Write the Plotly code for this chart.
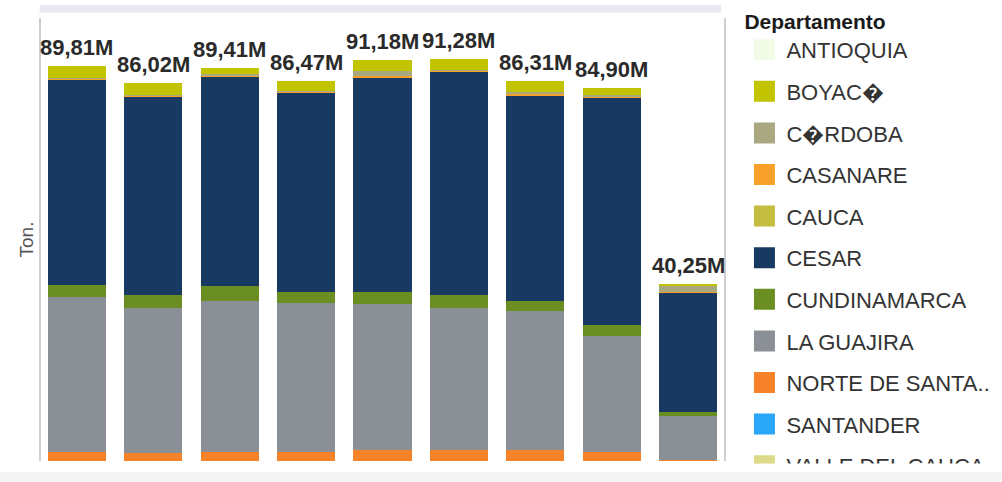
import plotly.graph_objects as go

years = ["2012", "2013", "2014", "2015", "2016", "2017", "2018", "2019", "2020"]

# Values in millions of tonnes
antioquia = [0, 0, 0, 0, 0, 0, 0, 0, 0]
boyaca = [2.80, 2.80, 1.50, 2.40, 2.59, 2.43, 2.43, 1.59, 0.50]
cordoba = [0.15, 0.15, 0.20, 0.15, 0.98, 0.15, 0.40, 0.40, 1.36]
casanare = [0.15, 0.15, 0.50, 0.15, 0.35, 0.15, 0.50, 0.35, 0.05]
cauca = [0, 0, 0, 0, 0, 0, 0, 0, 0]
cesar = [46.70, 45.17, 47.35, 45.42, 48.90, 50.80, 46.53, 51.71, 27.19]
cundinamarca = [2.66, 2.89, 3.48, 2.36, 2.73, 2.89, 2.34, 2.43, 1.00]
la_guajira = [35.24, 33.11, 34.27, 33.88, 33.13, 32.36, 31.61, 26.31, 9.85]
norte_santander = [2.11, 1.75, 2.11, 2.11, 2.50, 2.50, 2.50, 2.11, 0.30]
santander = [0, 0, 0, 0, 0, 0, 0, 0, 0]
valle_cauca = [0, 0, 0, 0, 0, 0, 0, 0, 0]

# legend order (top to bottom); stacking is the reverse (bottom first)
series = [
    ("ANTIOQUIA", antioquia, "#F1FBE6"),
    ("BOYAC\ufffd", boyaca, "#C3C400"),
    ("C\ufffdRDOBA", cordoba, "#A9A880"),
    ("CASANARE", casanare, "#F8A02A"),
    ("CAUCA", cauca, "#C3BE40"),
    ("CESAR", cesar, "#173962"),
    ("CUNDINAMARCA", cundinamarca, "#6B8E23"),
    ("LA GUAJIRA", la_guajira, "#8A9096"),
    ("NORTE DE SANTA..", norte_santander, "#F6822A"),
    ("SANTANDER", santander, "#2AA7F8"),
    ("VALLE DEL CAUCA", valle_cauca, "#DDDB8A"),
]

FONT = "Liberation Sans, Arial, sans-serif"

fig = go.Figure()
# legend entries first (larger square symbols), in legend order
for name, vals, col in series:
    fig.add_trace(go.Scatter(
        x=[None], y=[None], mode="markers", name=name, legendgroup=name,
        marker=dict(symbol="square", size=16, color=col, line=dict(width=5, color=col)),
        showlegend=True, hoverinfo="skip",
    ))
# stacked bars, bottom first
for name, vals, col in reversed(series):
    fig.add_trace(go.Bar(
        x=years, y=vals, name=name, marker=dict(color=col, line=dict(width=0)),
        showlegend=False,
    ))

totals = [round(sum(v[i] for _, v, _ in series), 2) for i in range(len(years))]
labels = [f"{t:.2f}".replace(".", ",") + "M" for t in totals]

# category axis: annotation x uses the category index
annotations = [
    dict(x=i, y=t, xref="x", yref="y", text=lab, showarrow=False,
         yanchor="bottom", yshift=4,
         font=dict(family=FONT, size=22, color="#2a2a2a", weight="bold"))
    for i, (t, lab) in enumerate(zip(totals, labels))
]

fig.update_layout(
    width=1002, height=482,
    barmode="stack", bargap=0.24,
    paper_bgcolor="white", plot_bgcolor="white",
    margin=dict(l=41, r=278, t=18, b=21, autoexpand=False),
    font=dict(family=FONT, color="#333333"),
    xaxis=dict(type="category", categoryorder="array", categoryarray=years,
               showticklabels=False, showgrid=False, zeroline=False,
               showline=False, ticks="", range=[-0.47, 8.47]),
    yaxis=dict(showticklabels=False, showgrid=False, zeroline=False, showline=True,
               linecolor="#cfcfcf", linewidth=2, mirror=True, ticks="",
               range=[0, 100.7],
               title=dict(text="Ton.", font=dict(size=19, color="#555555"), standoff=0)),
    legend=dict(
        x=1.027, y=1.037, xanchor="left", yanchor="top",
        traceorder="grouped", tracegroupgap=10, itemwidth=34,
        font=dict(family=FONT, size=22, color="#333333"),
        title=dict(text="Departamento" + "\u00a0" * 22,
                   font=dict(family=FONT, size=21, color="#1a1a1a", weight="bold")),
        bgcolor="rgba(0,0,0,0)", maxheight=462,
    ),
    annotations=annotations,
    shapes=[
        dict(type="rect", xref="paper", yref="paper", x0=-0.002, x1=0.996,
             y0=(461 - 12.5) / 443, y1=(461 - 5) / 443, fillcolor="#E9EAEF", line=dict(width=0), layer="below"),
        dict(type="rect", xref="paper", yref="paper", x0=-41 / 683, x1=(1002 - 41) / 683,
             y0=-(482 - 461) / 443, y1=-(472 - 461) / 443, fillcolor="#F5F5F5", line=dict(width=0), layer="below"),
    ],
    showlegend=True,
)

fig.write_html("out.html")
